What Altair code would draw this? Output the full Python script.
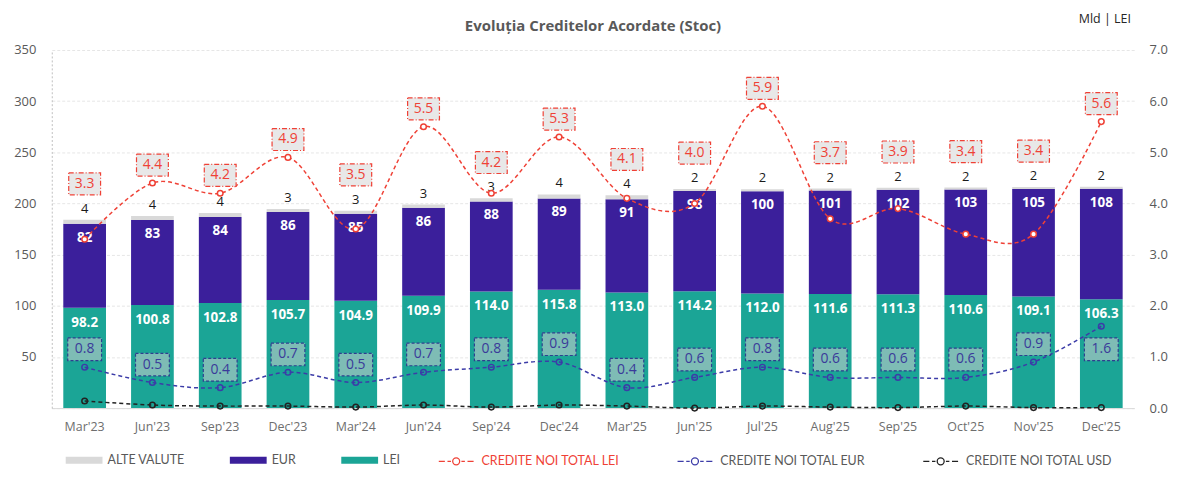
import altair as alt
import pandas as pd

months = ["Mar'23", "Jun'23", "Sep'23", "Dec'23", "Mar'24", "Jun'24", "Sep'24", "Dec'24",
          "Mar'25", "Jun'25", "Jul'25", "Aug'25", "Sep'25", "Oct'25", "Nov'25", "Dec'25"]
lei = [98.2, 100.8, 102.8, 105.7, 104.9, 109.9, 114.0, 115.8, 113.0, 114.2, 112.0, 111.6, 111.3, 110.6, 109.1, 106.3]
eur = [82, 83, 84, 86, 85, 86, 88, 89, 91, 98, 100, 101, 102, 103, 105, 108]
alte = [4, 4, 4, 3, 3, 3, 3, 4, 4, 2, 2, 2, 2, 2, 2, 2]
noi_lei = [3.3, 4.4, 4.2, 4.9, 3.5, 5.5, 4.2, 5.3, 4.1, 4.0, 5.9, 3.7, 3.9, 3.4, 3.4, 5.6]
noi_eur = [0.8, 0.5, 0.4, 0.7, 0.5, 0.7, 0.8, 0.9, 0.4, 0.6, 0.8, 0.6, 0.6, 0.6, 0.9, 1.6]
noi_usd = [0.14, 0.06, 0.04, 0.04, 0.02, 0.06, 0.02, 0.06, 0.04, 0.0, 0.04, 0.02, 0.01, 0.04, 0.01, 0.01]

bar_series = ["ALTE VALUTE", "EUR", "LEI"]
bar_colors = ["#d9d9d9", "#3b1f9b", "#1ba596"]
line_series = ["CREDITE NOI TOTAL LEI", "CREDITE NOI TOTAL EUR", "CREDITE NOI TOTAL USD"]
line_colors = ["#ef4136", "#3c3ca8", "#222222"]

wide = pd.DataFrame({"month": months, "lei": lei, "eur": eur, "alte": alte,
                     "noi_lei": noi_lei, "noi_eur": noi_eur, "noi_usd": noi_usd})

bar_rows = []
for i, m in enumerate(months):
    bar_rows.append({"month": m, "series": "LEI", "value": lei[i], "ord": 0})
    bar_rows.append({"month": m, "series": "EUR", "value": eur[i], "ord": 1})
    bar_rows.append({"month": m, "series": "ALTE VALUTE", "value": alte[i], "ord": 2})
bar_df = pd.DataFrame(bar_rows)

line_rows = []
for i, m in enumerate(months):
    line_rows.append({"month": m, "series": line_series[0], "value": noi_lei[i]})
    line_rows.append({"month": m, "series": line_series[1], "value": noi_eur[i]})
    line_rows.append({"month": m, "series": line_series[2], "value": noi_usd[i]})
line_df = pd.DataFrame(line_rows)

FONT = "Open Sans"
GRAY = "#595959"

x_axis = alt.Axis(title=None, labelAngle=0, ticks=False, labelPadding=12,
                  labelColor="#6e6e6e", labelFontSize=12.5, labelFont=FONT,
                  domainColor="#d9d9d9", grid=False)
x_scale = alt.Scale(paddingInner=0.37, paddingOuter=0.17)


def X():
    return alt.X("month:N", sort=months, scale=x_scale, axis=x_axis)


left_scale = alt.Scale(domain=[0, 350], nice=False)
right_scale = alt.Scale(domain=[0, 7], nice=False)

left_axis = alt.Axis(title=None, values=list(range(0, 351, 50)),
                     labelExpr="datum.value == 0 ? '' : datum.label",
                     ticks=False, labelPadding=16, labelColor=GRAY, labelFontSize=13,
                     labelFont=FONT, domain=True, domainColor="#bfbfbf",
                     domainDash=[2, 2], grid=True, gridColor="#e6e6e6",
                     gridDash=[3, 2])
right_axis = alt.Axis(orient="right", title="Mld | LEI", titleAngle=0,
                      titleX=-30, titleY=-32, titleAlign="center",
                      titleBaseline="middle", titleFontWeight="normal",
                      titleFontSize=12.5, titleColor="#262626", titleFont=FONT,
                      values=[0, 1, 2, 3, 4, 5, 6, 7], format=".1f", ticks=False,
                      domain=False, grid=False, labelPadding=15, labelColor=GRAY,
                      labelFontSize=13, labelFont=FONT)

bars = alt.Chart(bar_df).mark_bar().encode(
    x=X(),
    y=alt.Y("value:Q", stack="zero", scale=left_scale, axis=left_axis),
    fill=alt.Fill("series:N", scale=alt.Scale(domain=bar_series, range=bar_colors),
                  legend=alt.Legend(title=None, orient="none", direction="horizontal",
                                    legendX=14, legendY=394, padding=0,
                                    symbolType="M-1,-0.19H1V0.19H-1Z", symbolSize=1369,
                                    symbolStrokeWidth=0, labelOffset=5,
                                    columnPadding=45, labelFont="Lato",
                                    labelFontSize=12.5, labelColor=GRAY)),
    order=alt.Order("ord:Q", sort="ascending"),
)

base_w = alt.Chart(wide).transform_calculate(
    eur_top="datum.lei + datum.eur",
    total="datum.lei + datum.eur + datum.alte",
)

lei_lbl = base_w.mark_text(color="white", fontWeight="bold", fontSize=13.5, dy=15,
                           baseline="middle", font=FONT).encode(
    x=X(),
    y=alt.Y("lei:Q", scale=left_scale, axis=left_axis),
    text=alt.Text("lei:Q", format=".1f"),
)
eur_lbl = base_w.mark_text(color="white", fontWeight="bold", fontSize=13.5, dy=14,
                           baseline="middle", font=FONT).encode(
    x=X(),
    y=alt.Y("eur_top:Q", scale=left_scale, axis=left_axis),
    text=alt.Text("eur:Q", format="d"),
)
alte_lbl = base_w.mark_text(color="#1a1a1a", fontSize=13, dy=-11,
                            baseline="middle", font=FONT).encode(
    x=X(),
    y=alt.Y("total:Q", scale=left_scale, axis=left_axis),
    text=alt.Text("alte:Q", format="d"),
)

left = alt.layer(bars, lei_lbl, eur_lbl, alte_lbl)

stroke_scale = alt.Scale(domain=line_series, range=line_colors)

lines = alt.Chart(line_df).mark_line(strokeDash=[4, 3], strokeWidth=1.5,
                                     interpolate="cardinal").encode(
    x=X(),
    y=alt.Y("value:Q", scale=right_scale, axis=right_axis),
    stroke=alt.Stroke("series:N", scale=stroke_scale,
                      legend=alt.Legend(title=None, orient="none", direction="horizontal",
                                        legendX=388, legendY=395, padding=0,
                                        symbolType="M-1,0H-0.65M-0.5,0H-0.3M0.3,0H0.5M0.65,0H1M0.2,0A0.2,0.2 0 1,1 -0.2,0A0.2,0.2 0 1,1 0.2,0",
                                        symbolSize=1225, symbolStrokeWidth=1.3,
                                        symbolFillColor="white", labelOffset=7,
                                        columnPadding=55, labelFont="Lato",
                                        labelFontSize=12.5,
                                        labelColor={"expr": "datum.label == 'CREDITE NOI TOTAL LEI' ? '#ef4136' : '#595959'"})),
)

points = alt.Chart(line_df).mark_point(shape="circle", size=32, strokeWidth=1.5,
                                       opacity=1).encode(
    x=X(),
    y=alt.Y("value:Q", scale=right_scale, axis=right_axis),
    stroke=alt.Stroke("series:N", scale=stroke_scale, legend=None),
    fill=alt.condition("datum.series == 'CREDITE NOI TOTAL LEI'", alt.value("white"),
                       alt.value("transparent")),
)

base_r = alt.Chart(wide).transform_calculate(
    total="datum.lei + datum.eur + datum.alte",
).transform_calculate(
    lei_box="max(datum.noi_lei + 0.35, datum.total / 50 + 0.7)",
    eur_box="(datum.noi_eur + 0.8 > datum.lei / 50 - 0.29) ? datum.noi_eur - 0.45 : datum.noi_eur + 0.35",
)

lei_box = base_r.mark_point(shape="M-1,-0.69H1V0.69H-1Z", size=1024, filled=True,
                            fill="#e8e8e8", fillOpacity=1, stroke="#ef4136",
                            strokeDash=[5, 2, 1, 2], strokeWidth=1.2, opacity=1).encode(
    x=X(),
    y=alt.Y("lei_box:Q", scale=right_scale, axis=right_axis),
)
lei_box_txt = base_r.mark_text(color="#ef4136", fontSize=14, baseline="middle",
                               font=FONT).encode(
    x=X(),
    y=alt.Y("lei_box:Q", scale=right_scale, axis=right_axis),
    text=alt.Text("noi_lei:Q", format=".1f"),
)
eur_box = base_r.mark_point(shape="M-1,-0.67H1V0.67H-1Z", size=1156, filled=True,
                            fill="#d0d0d0", fillOpacity=0.55, stroke="#2f3f8f",
                            strokeDash=[3, 2], strokeWidth=1.2, opacity=1,
                            strokeOpacity=1).encode(
    x=X(),
    y=alt.Y("eur_box:Q", scale=right_scale, axis=right_axis),
)
eur_box_txt = base_r.mark_text(color="#3a3a9a", fontSize=14, baseline="middle",
                               font=FONT).encode(
    x=X(),
    y=alt.Y("eur_box:Q", scale=right_scale, axis=right_axis),
    text=alt.Text("noi_eur:Q", format=".1f"),
)

right = alt.layer(lines, points, lei_box, lei_box_txt, eur_box, eur_box_txt)

chart = alt.layer(left, right).resolve_scale(y="independent").properties(
    width=1088, height=360,
    padding={"left": 44, "top": 41, "right": 35, "bottom": 60},
    autosize=alt.AutoSizeParams(type="none"),
    title=alt.TitleParams("Evoluția Creditelor Acordate (Stoc)", anchor="middle",
                          frame="group", fontSize=15, fontWeight="bold", color=GRAY,
                          font=FONT, offset=14, dy=36),
).configure(background="white").configure_view(strokeWidth=0, stroke=None)

chart.save("out.html", embed_options={"renderer": "svg", "actions": False})
